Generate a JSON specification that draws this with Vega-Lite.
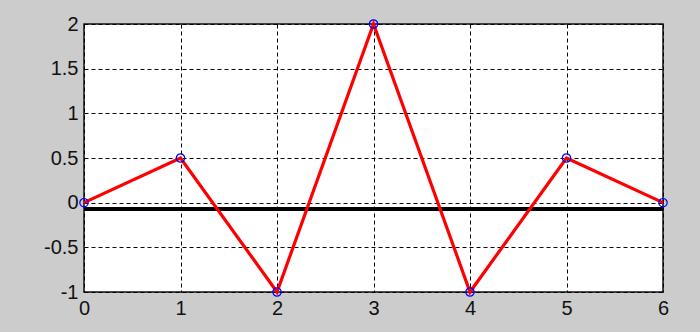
{
  "$schema": "https://vega.github.io/schema/vega-lite/v6.json",
  "width": 579,
  "height": 268,
  "autosize": "none",
  "padding": {"left": 84, "top": 24, "right": 37, "bottom": 40},
  "background": "#cccccc",
  "config": {
    "view": {"fill": "white", "stroke": "#111111", "strokeWidth": 1.5},
    "axis": {
      "grid": true,
      "gridColor": "black",
      "gridWidth": 1,
      "gridDash": [4, 3],
      "gridOpacity": 1,
      "domain": false,
      "ticks": false,
      "labelFlush": false,
      "labelFont": "Liberation Sans",
      "labelFontSize": 20,
      "labelColor": "#111111",
      "title": null
    }
  },
  "datasets": {
    "signal": [
      {"n": 0, "v": 0},
      {"n": 1, "v": 0.5},
      {"n": 2, "v": -1},
      {"n": 3, "v": 2},
      {"n": 4, "v": -1},
      {"n": 5, "v": 0.5},
      {"n": 6, "v": 0}
    ],
    "baseline": [{"level": -0.07}]
  },
  "layer": [
    {
      "data": {"name": "baseline"},
      "mark": {"type": "rule", "color": "black", "strokeWidth": 4},
      "encoding": {
        "y": {
          "field": "level", "type": "quantitative",
          "scale": {"domain": [-1, 2], "nice": false, "zero": false}
        }
      }
    },
    {
      "data": {"name": "signal"},
      "mark": {"type": "line", "color": "#ff0000", "strokeWidth": 3.2},
      "encoding": {
        "x": {
          "field": "n", "type": "quantitative",
          "scale": {"domain": [0, 6], "nice": false, "zero": false},
          "axis": {"values": [0, 1, 2, 3, 4, 5, 6], "format": "d", "labelPadding": 6}
        },
        "y": {
          "field": "v", "type": "quantitative",
          "scale": {"domain": [-1, 2], "nice": false, "zero": false},
          "axis": {"values": [-1, -0.5, 0, 0.5, 1, 1.5, 2], "labelExpr": "toString(datum.value)", "labelPadding": 6}
        }
      }
    },
    {
      "data": {"name": "signal"},
      "mark": {"type": "point", "shape": "circle", "filled": false, "stroke": "#0000ff", "strokeWidth": 1.2, "size": 70, "opacity": 1},
      "encoding": {
        "x": {"field": "n", "type": "quantitative"},
        "y": {"field": "v", "type": "quantitative"}
      }
    }
  ]
}
